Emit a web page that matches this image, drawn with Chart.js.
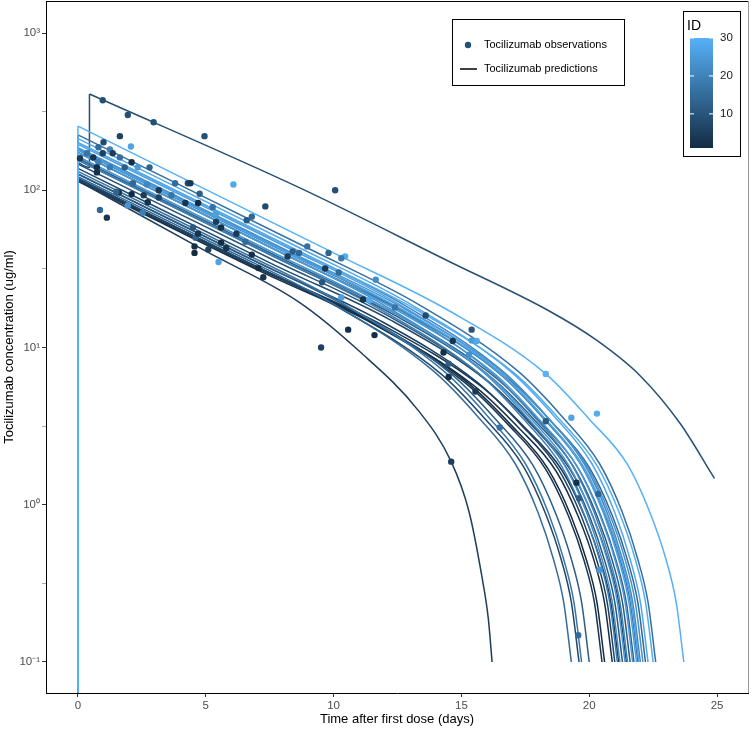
<!DOCTYPE html>
<html>
<head>
<meta charset="utf-8">
<title>Tocilizumab concentrations</title>
<script src="https://cdn.jsdelivr.net/npm/chart.js@4.4.1/dist/chart.umd.min.js"></script>
<style>
  html, body { margin: 0; padding: 0; background: #fff; overflow: hidden; }
  #wrap { width: 751px; height: 729px; position: relative; }
</style>
</head>
<body>
<div id="wrap"><canvas id="pkChart"></canvas></div>
<script>
// Observed concentrations (days, ug/ml, patient ID)
const obsTime = [
  0.97, 1.95, 2.96, 4.95, 10.06, 1.64, 2.07, 6.08, 0.86, 1.13,
  7.33, 0.08, 1.0, 0.8, 1.25, 0.97, 0.6, 0.35, 0.8, 1.36,
  1.64, 2.1, 0.74, 0.74, 1.25, 1.83, 2.8, 2.34, 2.15, 2.7,
  3.16, 3.8, 4.3, 1.6, 2.1, 2.57, 3.16, 3.66, 2.73, 1.5,
  4.2, 4.7, 1.95, 2.53, 4.4, 4.76, 5.27, 5.4, 6.8, 6.6,
  5.4, 4.5, 5.6, 4.6, 4.7, 6.2, 6.55, 5.6, 4.56, 5.1,
  5.8, 4.56, 5.5, 6.8, 7.06, 7.25, 8.4, 8.2, 8.97, 10.45,
  9.8, 10.3, 9.67, 10.2, 9.55, 10.3, 11.15, 11.4, 11.65, 12.4,
  13.6, 10.57, 11.6, 9.51, 15.4, 14.66, 15.4, 15.6, 14.3, 14.5,
  14.5, 15.55, 15.3, 14.6, 18.3, 20.3, 19.3, 18.3, 16.5, 19.5,
  20.35, 19.6, 20.4, 19.57, 8.65
];
const obsConc = [
  374, 301, 271, 221, 100, 221, 190, 109, 75, 67,
  79, 160, 202, 188, 182, 172, 162, 172, 151, 172,
  162, 151, 140, 130, 140, 140, 140, 140, 111, 109,
  100, 111, 111, 97, 94.6, 93, 90, 93, 84, 98,
  83, 83, 80, 72, 111, 95, 78, 71, 68, 64.5,
  63, 58, 58, 50, 53, 53, 47, 46.5, 44, 42,
  43, 40, 35, 39, 32, 28, 40.8, 38, 44, 38,
  40, 37, 31.8, 30, 26, 20.8, 20.2, 20, 27, 18,
  16, 13, 12, 10, 13, 11, 11.1, 11, 9.3, 7.9,
  6.5, 5.25, 9.0, 1.88, 6.8, 3.8, 3.58, 3.4, 3.1, 1.38,
  1.17, 1.1, 0.385, 0.148, 40
];
const obsId = [
  9, 9, 9, 9, 9, 6, 27, 28, 14, 3,
  8, 4, 8, 15, 20, 6, 3, 17, 19, 5,
  16, 2, 1, 2, 18, 12, 13, 25, 14, 21,
  4, 15, 7, 3, 1, 5, 6, 17, 2, 13,
  3, 1, 24, 19, 4, 12, 16, 26, 14, 11,
  5, 11, 2, 13, 3, 4, 15, 1, 2, 6,
  3, 1, 27, 2, 1, 3, 12, 5, 16, 29,
  13, 18, 4, 15, 10, 26, 3, 28, 22, 17,
  8, 2, 1, 6, 10, 3, 25, 28, 2, 12,
  1, 4, 23, 5, 30, 29, 27, 11, 16, 2,
  14, 12, 24, 15, 14
];

// Model predictions per patient (null = break after the second dose)
const predIds = [1, 2, 3, 4, 5, 6, 7, 8, 9, 10, 11, 12, 13, 14, 15,
                 16, 17, 18, 19, 20, 21, 22, 23, 24, 25, 26, 27, 28, 29, 30];
const predTimes = [
  [0, 6.9, 11.4, 15.2, 16.9, 18.4, 19.3, 19.9, 20.3, 20.6],
  [0, 7.2, 11.7, 15.5, 17.2, 18.7, 19.6, 20.2, 20.6, 20.9],
  [0, 6.8, 11.3, 15.1, 16.8, 18.3, 19.2, 19.8, 20.2, 20.5],
  [0, 7.45, 11.95, 15.75, 17.45, 18.95, 19.85, 20.45, 20.85, 21.15],
  [0, 5, 8.66, 11, 13.3, 14.6, 15.3, 15.8, 16.05, 16.2],
  [0, 7.3, 11.8, 15.6, 17.3, 18.8, 19.7, 20.3, 20.7, 21.0],
  [0, 5.9, 10.4, 14.2, 15.9, 17.4, 18.3, 18.9, 19.3, 19.6],
  [0, 7.75, 12.25, 16.05, 17.75, 19.25, 20.15, 20.75, 21.15, 21.45],
  [0, 0.45, 0.45, 0.45, 0.45, 8.66, 14.5, 18.4, 20.3, 22, 23.55, 24.9],
  [0, 7.6, 12.1, 15.9, 17.6, 19.1, 20.0, 20.6, 21.0, 21.3],
  [0, 7.9, 12.4, 16.2, 17.9, 19.4, 20.3, 20.9, 21.3, 21.6],
  [0, 6.3, 10.8, 14.6, 16.3, 17.8, 18.7, 19.3, 19.7, 20.0],
  [0, 8.05, 12.55, 16.35, 18.05, 19.55, 20.45, 21.05, 21.45, 21.75],
  [0, 8.5, 13.0, 16.8, 18.5, 20.0, 20.9, 21.5, 21.9, 22.2],
  [0, 5.6, 10.1, 13.9, 15.6, 17.1, 18.0, 18.6, 19.0, 19.3],
  [0, 8.9, 13.4, 17.2, 18.9, 20.4, 21.3, 21.9, 22.3, 22.6],
  [0, 6.0, 10.5, 14.3, 16.0, 17.5, 18.4, 19.0, 19.4, 19.7],
  [0, 8.2, 12.7, 16.5, 18.2, 19.7, 20.6, 21.2, 21.6, 21.9],
  [0, 7.4, 11.9, 15.7, 17.4, 18.9, 19.8, 20.4, 20.8, 21.1],
  [0, 7.8, 12.3, 16.1, 17.8, 19.3, 20.2, 20.8, 21.2, 21.5],
  [0, 8.3, 12.8, 16.6, 18.3, 19.8, 20.7, 21.3, 21.7, 22.0],
  [0, 7.5, 12.0, 15.8, 17.5, 19.0, 19.9, 20.5, 20.9, 21.2],
  [0, 8.4, 12.9, 16.7, 18.4, 19.9, 20.8, 21.4, 21.8, 22.1],
  [0, 7.7, 12.2, 16.0, 17.7, 19.2, 20.1, 20.7, 21.1, 21.4],
  [0, 8.0, 12.5, 16.3, 18.0, 19.5, 20.4, 21.0, 21.4, 21.7],
  [0, 8.15, 12.65, 16.45, 18.15, 19.65, 20.55, 21.15, 21.55, 21.85],
  [0, 8.25, 12.75, 16.55, 18.25, 19.75, 20.65, 21.25, 21.65, 21.95],
  [0, 8.6, 13.1, 16.9, 18.6, 20.1, 21.0, 21.6, 22.0, 22.3],
  [0, 8.8, 13.3, 17.1, 18.8, 20.3, 21.2, 21.8, 22.2, 22.5],
  [0, 10, 14.5, 18.3, 20.0, 21.5, 22.4, 23.0, 23.4, 23.7]
];
const predConc = [
  [118, 33.1, 14.9, 6.05, 3.27, 1.68, 0.84, 0.44, 0.24, 0.1],
  [114, 30.2, 13.8, 5.7, 3.13, 1.64, 0.82, 0.435, 0.237, 0.1],
  [116, 33.1, 14.9, 6.05, 3.27, 1.68, 0.84, 0.44, 0.24, 0.1],
  [119, 30.2, 13.8, 5.7, 3.13, 1.64, 0.82, 0.435, 0.237, 0.1],
  [115, 41, 19.4, 9.5, 4.0, 1.88, 0.9, 0.35, 0.19, 0.1],
  [127, 33.1, 14.9, 6.05, 3.27, 1.68, 0.84, 0.44, 0.24, 0.1],
  [118, 39.8, 17.2, 6.8, 3.55, 1.78, 0.87, 0.45, 0.24, 0.1],
  [138, 33.1, 14.9, 6.05, 3.27, 1.68, 0.84, 0.44, 0.24, 0.1],
  [150, 140, 410, null, 410, 104, 35.4, 17.2, 11.1, 6.6, 3.3, 1.47],
  [147, 36.3, 16.0, 6.4, 3.4, 1.73, 0.855, 0.443, 0.239, 0.1],
  [156, 36.3, 16.0, 6.4, 3.4, 1.73, 0.855, 0.443, 0.239, 0.1],
  [127, 39.8, 17.2, 6.8, 3.55, 1.78, 0.87, 0.45, 0.24, 0.1],
  [160, 36.3, 16.0, 6.4, 3.4, 1.73, 0.855, 0.443, 0.239, 0.1],
  [174, 36.3, 16.0, 6.4, 3.4, 1.73, 0.855, 0.443, 0.239, 0.1],
  [122, 43.6, 18.5, 7.1, 3.7, 1.83, 0.89, 0.45, 0.24, 0.1],
  [225, 43.6, 18.5, 7.1, 3.7, 1.83, 0.89, 0.45, 0.24, 0.1],
  [132, 43.6, 18.5, 7.1, 3.7, 1.83, 0.89, 0.45, 0.24, 0.1],
  [180, 39.8, 17.2, 6.8, 3.55, 1.78, 0.87, 0.45, 0.24, 0.1],
  [156, 39.8, 17.2, 6.8, 3.55, 1.78, 0.87, 0.45, 0.24, 0.1],
  [184, 43.6, 18.5, 7.1, 3.7, 1.83, 0.89, 0.45, 0.24, 0.1],
  [201, 43.6, 18.5, 7.1, 3.7, 1.83, 0.89, 0.45, 0.24, 0.1],
  [174, 43.6, 18.5, 7.1, 3.7, 1.83, 0.89, 0.45, 0.24, 0.1],
  [187, 39.8, 17.2, 6.8, 3.55, 1.78, 0.87, 0.45, 0.24, 0.1],
  [164, 39.8, 17.2, 6.8, 3.55, 1.78, 0.87, 0.45, 0.24, 0.1],
  [174, 39.8, 17.2, 6.8, 3.55, 1.78, 0.87, 0.45, 0.24, 0.1],
  [196, 43.6, 18.5, 7.1, 3.7, 1.83, 0.89, 0.45, 0.24, 0.1],
  [182, 39.8, 17.2, 6.8, 3.55, 1.78, 0.87, 0.45, 0.24, 0.1],
  [213, 43.6, 18.5, 7.1, 3.7, 1.83, 0.89, 0.45, 0.24, 0.1],
  [201, 39.8, 17.2, 6.8, 3.55, 1.78, 0.87, 0.45, 0.24, 0.1],
  [256, 40, 17.2, 6.8, 3.5, 1.8, 0.87, 0.45, 0.24, 0.1]
];
// pre-dose concentration is 0, i.e. off the bottom of the log axis
const preDoseConc = 0.01;

// Axes
const xMin = -1.25, xMax = 26.21;
const xTickValues = [0, 5, 10, 15, 20, 25];
const yMin = 0.0635, yMax = 1600;
const yTickValues = [0.1, 0.3162, 1, 3.162, 10, 31.62, 100, 316.2, 1000];
const yTickLabels = ['10\u207B\u00B9', '', '10\u2070', '', '10\u00B9', '', '10\u00B2', '', '10\u00B3'];

// Legends
const legendLabels = ['Tocilizumab observations', 'Tocilizumab predictions'];
const colorbarTitle = 'ID';
const colorbarTicks = [10, 20, 30];
const idRange = [1, 30];

const fontFam = "'Liberation Sans', Arial, sans-serif";
const lowColor = [19, 43, 67];    // #132B43
const highColor = [86, 177, 247]; // #56B1F7

function idColor(id) {
  const f = (id - idRange[0]) / (idRange[1] - idRange[0]);
  const c = lowColor.map((v, i) => Math.round(v + (highColor[i] - v) * f));
  return `rgb(${c[0]},${c[1]},${c[2]})`;
}

const datasets = [];
datasets.push({
  type: 'scatter',
  label: legendLabels[0],
  data: obsTime.map((t, i) => ({ x: t, y: obsConc[i] })),
  backgroundColor: obsId.map(idColor),
  pointRadius: 3.2,
  pointHoverRadius: 3.2,
  pointBorderWidth: 0,
  borderWidth: 0,
  order: 0
});

predIds.forEach((id, k) => {
  const ts = predTimes[k], cs = predConc[k];
  const pts = [
    { x: ts[0], y: preDoseConc },
    { x: ts[0], y: cs[0] },
    { x: ts[0], y: null }
  ];
  ts.forEach((t, i) => pts.push({ x: t, y: cs[i] }));
  datasets.push({
    type: 'line',
    label: 'ID ' + id,
    data: pts,
    borderColor: idColor(id),
    borderWidth: 1.5,
    pointRadius: 0,
    pointHoverRadius: 0,
    fill: false,
    spanGaps: false,
    cubicInterpolationMode: 'monotone',
    order: 100 - id
  });
});

const frame = {
  id: 'frame',
  afterDraw(chart) {
    const { ctx, chartArea: a } = chart;
    ctx.save();
    ctx.lineWidth = 1;
    ctx.strokeStyle = '#000';
    ctx.beginPath();
    ctx.moveTo(a.left, a.top + 0.5);
    ctx.lineTo(a.right, a.top + 0.5);
    ctx.stroke();
    ctx.strokeStyle = '#999';
    ctx.beginPath();
    ctx.moveTo(a.right + 0.5, a.top);
    ctx.lineTo(a.right + 0.5, a.bottom);
    ctx.stroke();
    ctx.restore();
  }
};

const legends = {
  id: 'legends',
  afterDraw(chart) {
    const ctx = chart.ctx;
    ctx.save();
    // key for points and lines
    ctx.fillStyle = '#fff';
    ctx.fillRect(452, 19, 172, 66);
    ctx.strokeStyle = '#000';
    ctx.lineWidth = 1;
    ctx.strokeRect(452.5, 19.5, 172, 66);
    ctx.fillStyle = idColor(9);
    ctx.beginPath();
    ctx.arc(468, 45, 3.2, 0, Math.PI * 2);
    ctx.fill();
    ctx.lineWidth = 1.5;
    ctx.beginPath();
    ctx.moveTo(460, 69);
    ctx.lineTo(477, 69);
    ctx.stroke();
    ctx.fillStyle = '#000';
    ctx.font = `11px ${fontFam}`;
    ctx.textBaseline = 'middle';
    ctx.textAlign = 'left';
    ctx.fillText(legendLabels[0], 484, 45);
    ctx.fillText(legendLabels[1], 484, 69);

    // colour bar
    ctx.fillStyle = '#fff';
    ctx.fillRect(683, 11, 57, 145);
    ctx.lineWidth = 1;
    ctx.strokeRect(683.5, 11.5, 57, 145);
    ctx.fillStyle = '#000';
    ctx.font = `14px ${fontFam}`;
    ctx.fillText(colorbarTitle, 687, 26);
    const barTop = 38, barBot = 148;
    const g = ctx.createLinearGradient(0, barBot, 0, barTop);
    g.addColorStop(0, idColor(idRange[0]));
    g.addColorStop(1, idColor(idRange[1]));
    ctx.fillStyle = g;
    ctx.fillRect(690, barTop, 23, barBot - barTop);
    ctx.font = `11.5px ${fontFam}`;
    colorbarTicks.forEach(v => {
      const y = barBot - (v - idRange[0]) / (idRange[1] - idRange[0]) * (barBot - barTop);
      ctx.strokeStyle = '#fff';
      ctx.beginPath();
      ctx.moveTo(690, y); ctx.lineTo(694, y);
      ctx.moveTo(709, y); ctx.lineTo(713, y);
      ctx.stroke();
      ctx.fillStyle = '#1a1a1a';
      ctx.fillText(String(v), 720, y);
    });
    ctx.restore();
  }
};

new Chart(document.getElementById('pkChart'), {
  type: 'line',
  data: { datasets },
  options: {
    responsive: true,
    maintainAspectRatio: false,
    animation: false,
    layout: { autoPadding: false, padding: { top: 1, right: 3, left: 0, bottom: 0 } },
    plugins: {
      legend: { display: false },
      tooltip: { enabled: false }
    },
    scales: {
      x: {
        type: 'linear',
        min: xMin,
        max: xMax,
        afterBuildTicks: s => { s.ticks = xTickValues.map(v => ({ value: v })); },
        afterFit: s => { s.height = 36; s.paddingLeft = 0; s.paddingRight = 0; },
        grid: { drawOnChartArea: false, drawTicks: true, tickLength: 4, color: '#333' },
        border: { display: true, color: '#000', width: 1 },
        ticks: {
          color: '#4d4d4d',
          font: { family: fontFam, size: 11.5 },
          padding: 2,
          maxRotation: 0,
          autoSkip: false
        },
        title: {
          display: true,
          text: 'Time after first dose (days)',
          color: '#000',
          font: { family: fontFam, size: 13 },
          padding: { top: 0, bottom: 2 }
        }
      },
      y: {
        type: 'logarithmic',
        min: yMin,
        max: yMax,
        afterBuildTicks: s => { s.ticks = yTickValues.map(v => ({ value: v })); },
        afterFit: s => { s.width = 46; s.paddingTop = 0; s.paddingBottom = 0; },
        grid: {
          drawOnChartArea: false,
          drawTicks: true,
          tickLength: 4,
          tickColor: c => (c.tick && yTickLabels[c.index]) ? '#333' : '#aaa'
        },
        border: { display: true, color: '#000', width: 1 },
        ticks: {
          color: '#4d4d4d',
          font: { family: fontFam, size: 11.5 },
          padding: 2,
          autoSkip: false,
          callback: (v, i) => yTickLabels[i]
        },
        title: {
          display: true,
          text: 'Tocilizumab concentration (ug/ml)',
          color: '#000',
          font: { family: fontFam, size: 13 },
          padding: { top: 2, bottom: 0 }
        }
      }
    }
  },
  plugins: [frame, legends]
});
</script>
</body>
</html>
